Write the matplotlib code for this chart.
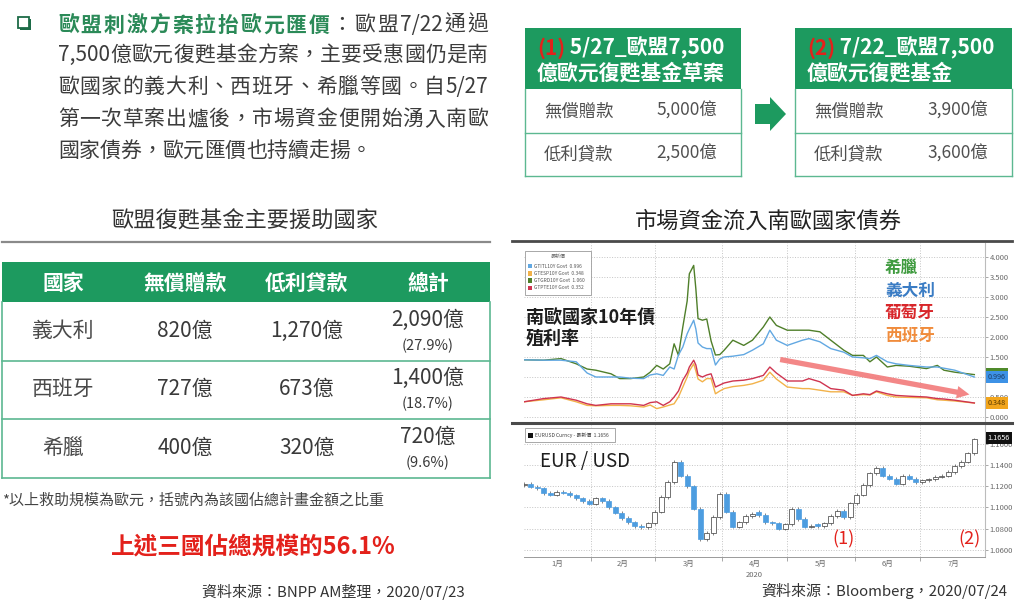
import re
import numpy as np
import matplotlib
matplotlib.use('Agg')
import matplotlib.pyplot as plt
from matplotlib.patches import Rectangle, Polygon, FancyArrowPatch
from matplotlib.transforms import blended_transform_factory as blend

plt.rcParams['font.family'] = ['Noto Sans CJK TC', 'DejaVu Sans']

# ---------------- data ----------------
intro_head = "歐盟刺激方案拉抬歐元匯價"
intro_tail = "：歐盟7/22通過"
intro_lines = ["7,500億歐元復甦基金方案，主要受惠國仍是南",
               "歐國家的義大利、西班牙、希臘等國。自5/27",
               "第一次草案出爐後，市場資金便開始湧入南歐",
               "國家債券，歐元匯價也持續走揚。"]

plan_tags = ["(1)", "(2)"]
plan_line1 = [" 5/27_歐盟7,500", " 7/22_歐盟7,500"]
plan_line2 = ["億歐元復甦基金草案", "億歐元復甦基金"]
plan_items = ["無償贈款", "低利貸款"]
plan1_values = [5000, 2500]
plan2_values = [3900, 3600]

table_title = "歐盟復甦基金主要援助國家"
table_header = ["國家", "無償贈款", "低利貸款", "總計"]
countries = ["義大利", "西班牙", "希臘"]
grants = [820, 727, 400]
loans = [1270, 673, 320]
totals = [2090, 1400, 720]
shares = [27.9, 18.7, 9.6]
footnote = "*以上救助規模為歐元，括號內為該國佔總計畫金額之比重"
summary = "上述三國佔總規模的56.1%"
source_left = "資料來源：BNPP AM整理，2020/07/23"

chart_title = "市場資金流入南歐國家債券"
source_right = "資料來源：Bloomberg，2020/07/24"
month_labels = ["1月", "2月", "3月", "4月", "5月", "6月", "7月"]
month_start_days = [0, 31, 60, 91, 121, 152, 182, 213]
yield_ticks = [0.0, 0.5, 1.0, 1.5, 2.0, 2.5, 3.0, 3.5, 4.0]
fx_ticks = [1.06, 1.08, 1.10, 1.12, 1.14, 1.16]

# 10Y yields (%), day of year 2020
yield_days = [0, 9, 17, 24, 29, 33, 40, 44, 49, 55, 58, 61, 64, 67, 69, 71, 73, 75, 76, 78,
              79, 80, 82, 84, 86, 88, 90, 92, 96, 101, 105, 110, 113, 116, 121, 128, 131, 136,
              141, 147, 151, 156, 159, 162, 167, 171, 177, 185, 190, 193, 198, 207]
greece = [1.43, 1.42, 1.46, 1.33, 1.20, 1.17, 1.08, 0.96, 0.96, 1.00, 1.12, 1.29, 1.20, 1.33,
          1.83, 1.54, 2.25, 2.90, 3.58, 3.79, 3.20, 2.46, 2.42, 2.45, 1.90, 1.55, 1.56, 1.67,
          1.92, 1.79, 1.92, 2.25, 2.50, 2.29, 2.17, 2.17, 2.17, 2.13, 1.92, 1.67, 1.54, 1.54,
          1.38, 1.50, 1.25, 1.29, 1.27, 1.21, 1.29, 1.17, 1.12, 1.06]
italy = [1.43, 1.42, 1.42, 1.38, 1.10, 1.00, 1.00, 1.00, 0.97, 0.96, 1.05, 1.08, 1.04, 1.25,
         1.20, 1.55, 1.75, 2.08, 2.20, 2.42, 2.20, 1.85, 1.75, 1.71, 1.71, 1.30, 1.45, 1.50,
         1.52, 1.56, 1.67, 1.83, 2.17, 1.92, 1.79, 1.92, 1.96, 1.88, 1.71, 1.62, 1.50, 1.48,
         1.46, 1.54, 1.38, 1.33, 1.29, 1.25, 1.25, 1.22, 1.17, 1.00]
portugal = [0.38, 0.46, 0.50, 0.42, 0.33, 0.29, 0.33, 0.33, 0.33, 0.29, 0.36, 0.38, 0.29, 0.38,
            0.50, 0.65, 0.92, 1.10, 1.25, 1.42, 1.30, 1.05, 1.00, 1.05, 1.08, 0.75, 0.80, 0.85,
            0.90, 0.92, 0.96, 1.04, 1.25, 1.10, 0.90, 0.90, 0.96, 0.88, 0.71, 0.67, 0.54, 0.58,
            0.56, 0.65, 0.58, 0.54, 0.52, 0.50, 0.46, 0.45, 0.42, 0.35]
spain = [0.38, 0.43, 0.48, 0.38, 0.29, 0.28, 0.29, 0.29, 0.28, 0.25, 0.30, 0.21, 0.25, 0.30,
         0.33, 0.50, 0.75, 1.00, 1.15, 1.33, 1.15, 0.95, 0.88, 0.96, 0.96, 0.58, 0.65, 0.71,
         0.76, 0.79, 0.83, 0.92, 1.12, 0.95, 0.75, 0.71, 0.71, 0.67, 0.63, 0.63, 0.54, 0.56,
         0.55, 0.63, 0.54, 0.50, 0.49, 0.48, 0.43, 0.42, 0.40, 0.35]
last_values = {"GTITL10Y Govt": 0.996, "GTESP10Y Govt": 0.348,
               "GTGRD10Y Govt": 1.060, "GTPTE10Y Govt": 0.352}
fx_last = 1.1656

# EUR/USD candles (every 3 days)
fx_days = list(range(0, 208, 3))
fx_open = [1.1210, 1.1225, 1.1195, 1.1180, 1.1135, 1.1120, 1.1150, 1.1140, 1.1115, 1.1085,
           1.1060, 1.1035, 1.1085, 1.1060, 1.1000, 1.0950, 1.0900, 1.0860, 1.0825, 1.0815,
           1.0850, 1.0960, 1.1100, 1.1240, 1.1430, 1.1300, 1.1200, 1.0990, 1.0700, 1.0760,
           1.0910, 1.1130, 1.0960, 1.0820, 1.0860, 1.0920, 1.0960, 1.0930, 1.0860, 1.0850,
           1.0800, 1.0840, 1.0990, 1.0890, 1.0820, 1.0840, 1.0825, 1.0850, 1.0920, 1.0970,
           1.0910, 1.1040, 1.1120, 1.1210, 1.1320, 1.1370, 1.1300, 1.1270, 1.1225, 1.1300,
           1.1270, 1.1240, 1.1255, 1.1265, 1.1290, 1.1300, 1.1335, 1.1390, 1.1430, 1.1510]
fx_close = [1.1225, 1.1195, 1.1180, 1.1135, 1.1120, 1.1150, 1.1140, 1.1115, 1.1085, 1.1060,
            1.1035, 1.1085, 1.1060, 1.1000, 1.0950, 1.0900, 1.0860, 1.0825, 1.0815, 1.0850,
            1.0960, 1.1100, 1.1240, 1.1430, 1.1300, 1.1200, 1.0990, 1.0700, 1.0760, 1.0910,
            1.1130, 1.0960, 1.0820, 1.0860, 1.0920, 1.0940, 1.0930, 1.0860, 1.0850, 1.0800,
            1.0840, 1.0990, 1.0890, 1.0820, 1.0830, 1.0825, 1.0850, 1.0920, 1.0970, 1.0910,
            1.1040, 1.1120, 1.1210, 1.1320, 1.1370, 1.1300, 1.1270, 1.1225, 1.1300, 1.1270,
            1.1240, 1.1255, 1.1265, 1.1290, 1.1300, 1.1335, 1.1390, 1.1430, 1.1510, 1.1640]

# ---------------- style ----------------
GREEN = '#1d9a5f'
GREEN_TXT = '#2b8a58'
LINE_G = '#5cb891'
TXT = '#3c3c3c'
RED = '#e3211b'

W, H = 1024, 604
fig = plt.figure(figsize=(W / 100, H / 100), dpi=100, facecolor='white')


def px_axes(x0, y0, x1, y1, **kw):
    return fig.add_axes([x0 / W, 1 - y1 / H, (x1 - x0) / W, (y1 - y0) / H], **kw)


ov = fig.add_axes([0, 0, 1, 1], zorder=10)
ov.set_xlim(0, W)
ov.set_ylim(H, 0)
ov.axis('off')
ov.patch.set_visible(False)
renderer = fig.canvas.get_renderer()


def text_width(s, **kw):
    t = ov.text(0, 0, s, **kw)
    w = t.get_window_extent(renderer).width
    t.remove()
    return w


def justified(segments, x0, x1, y, justify=True, fontsize=15):
    """segments: list of (text, color, weight)."""
    tokens = []
    for s, col, wt in segments:
        for tok in re.findall(r'[A-Za-z0-9/,.%_]+|.', s):
            tokens.append((tok, col, wt))
    widths = [text_width(t, fontsize=fontsize, fontweight=wt) for t, col, wt in tokens]
    gap = (x1 - x0 - sum(widths)) / (len(tokens) - 1) if justify else 0.0
    x = x0
    for (tok, col, wt), w in zip(tokens, widths):
        ov.text(x, y, tok, fontsize=fontsize, fontweight=wt, color=col,
                ha='left', va='center')
        x += w + gap


# ---------------- intro text ----------------
ov.add_patch(Rectangle((19.5, 18.5), 11, 11, facecolor='#1d6b47', edgecolor='none'))
ov.add_patch(Rectangle((18, 17), 10.5, 10.5, facecolor='white', edgecolor='#1d6b47', lw=1.3))
justified([(intro_head, GREEN_TXT, 'bold'), (intro_tail, TXT, 'normal')], 58, 488, 25)
line_y = [55, 87, 119, 151]
for i, line in enumerate(intro_lines):
    justified([(line, TXT, 'normal')], 58, 488, line_y[i],
              justify=(i < len(intro_lines) - 1))

# ---------------- plan tables ----------------
def plan_table(x0, x1, tag, l1, l2, values):
    ov.add_patch(Rectangle((x0, 28), x1 - x0, 61, facecolor=GREEN, edgecolor='none'))
    ta = ov.text(x0 + 12, 48, tag, color=RED, fontsize=15, fontweight='bold',
                 va='center', ha='left')
    ov.annotate(l1, xy=(1, 0.5), xycoords=ta, va='center', ha='left', color='white',
                fontsize=15, fontweight='bold')
    ov.text(x0 + 12, 73, l2, color='white', fontsize=15, fontweight='bold',
            va='center', ha='left')
    for k, (item, v) in enumerate(zip(plan_items, values)):
        yc = 111 + k * 43
        ov.text(x0 + 19, yc, item, color='#505050', fontsize=12.5, va='center', ha='left')
        ov.text(x1 - 24, yc, f"{v:,}億", color='#505050', fontsize=12.5,
                va='center', ha='right')
    for yl in (133, 176):
        ov.plot([x0, x1], [yl, yl], color=LINE_G, lw=1)
    for xl in (x0, x1):
        ov.plot([xl, xl], [89, 176], color=LINE_G, lw=1)


plan_table(525, 741, plan_tags[0], plan_line1[0], plan_line2[0], plan1_values)
plan_table(795, 1012, plan_tags[1], plan_line1[1], plan_line2[1], plan2_values)
ov.add_patch(Polygon([(755, 104), (770, 104), (770, 97), (786, 114), (770, 131),
                      (770, 124), (755, 124)], closed=True, facecolor=GREEN,
                     edgecolor='none'))

# ---------------- country table ----------------
ov.text(245, 221, table_title, color='#333333', fontsize=16, va='center', ha='center')
ov.plot([2, 490], [242, 242], color='#8a8a8a', lw=1.6)
ov.add_patch(Rectangle((2, 262), 488, 40, facecolor=GREEN, edgecolor='none'))
col_x = [63, 185, 307, 428]
for cx, h in zip(col_x, table_header):
    ov.text(cx, 283, h, color='white', fontsize=15, fontweight='bold',
            va='center', ha='center')
row_top = [302, 360, 419]
row_h = 58.5
for r, c in enumerate(countries):
    yc = row_top[r] + row_h / 2
    ov.text(col_x[0], yc, c, color='#4a4a4a', fontsize=15, va='center', ha='center')
    ov.text(col_x[1], yc, f"{grants[r]:,}億", color='#3a3a3a', fontsize=15,
            va='center', ha='center')
    ov.text(col_x[2], yc, f"{loans[r]:,}億", color='#3a3a3a', fontsize=15,
            va='center', ha='center')
    ov.text(col_x[3], yc - 11, f"{totals[r]:,}億", color='#3a3a3a', fontsize=15,
            va='center', ha='center')
    ov.text(col_x[3], yc + 15, f"({shares[r]}%)", color='#3a3a3a', fontsize=10.5,
            va='center', ha='center')
    yb = row_top[r] + row_h
    ov.plot([2, 490], [yb, yb], color=LINE_G, lw=1.2)
for xl in (2, 490):
    ov.plot([xl, xl], [302, 478], color=LINE_G, lw=1.2)

ov.text(2, 500, footnote, color='#444444', fontsize=10.8, va='center', ha='left')
ov.text(253, 547, summary, color=RED, fontsize=17, fontweight='bold',
        va='center', ha='center')
ov.text(465, 592, source_left, color='#333333', fontsize=10.8, va='center', ha='right')

# ---------------- chart ----------------
ov.text(768, 221, chart_title, color='#222222', fontsize=16, va='center', ha='center')
ov.plot([512, 1012], [241, 241], color='#4a4a4a', lw=2)
ov.plot([512, 1012], [423, 423], color='#4a4a4a', lw=2.2)

mids = [(a + b) / 2 for a, b in zip(month_start_days[:-1], month_start_days[1:])]
XMAX = 211.9


def style_axis(ax):
    for s in ('left', 'top', 'bottom'):
        ax.spines[s].set_visible(False)
    ax.spines['right'].set_color('#bcbcbc')
    ax.spines['right'].set_linewidth(0.8)
    ax.yaxis.tick_right()
    ax.tick_params(axis='y', labelsize=5.5, labelcolor='#6a6a6a', color='#9a9a9a',
                   length=2, pad=1.5, width=0.6)
    ax.set_xlim(0, XMAX)
    ax.set_xticks(month_start_days[1:-1])
    ax.grid(True, ls=':', color='#c4c4c4', lw=0.7)
    ax.set_axisbelow(True)


ax1 = px_axes(524, 243, 985, 421)
style_axis(ax1)
ax1.set_ylim(-0.1, 4.35)
ax1.set_yticks(yield_ticks)
# the 1.000 label sits behind the last-value tags, as in the screenshot
ax1.set_yticklabels(["" if v == 1.0 else f"{v:.3f}" for v in yield_ticks])
ax1.tick_params(axis='x', length=0, labelbottom=False)
ax1.plot(yield_days, greece, color='#4f7f2a', lw=1.0)
ax1.plot(yield_days, italy, color='#62a8e2', lw=1.0)
ax1.plot(yield_days, spain, color='#f2b24a', lw=1.0)
ax1.plot(yield_days, portugal, color='#cf3450', lw=1.0)

ax2 = px_axes(524, 425, 985, 557)
style_axis(ax2)
ax2.spines['bottom'].set_visible(True)
ax2.spines['bottom'].set_color('#9a9a9a')
ax2.spines['bottom'].set_linewidth(0.7)
ax2.set_ylim(1.0534, 1.1776)
ax2.set_yticks(fx_ticks)
ax2.set_yticklabels([f"{v:.4f}" for v in fx_ticks])
ax2.set_xticklabels([])
ax2.set_xticks(mids, minor=True)
ax2.set_xticklabels(month_labels, minor=True)
ax2.tick_params(axis='x', which='major', length=3, color='#9a9a9a', width=0.6)
ax2.tick_params(axis='x', which='minor', length=0, labelsize=5.5, labelcolor='#6a6a6a',
                pad=2)
ax2.text(mids[3], -0.105, "2020", transform=blend(ax2.transData, ax2.transAxes),
         fontsize=5.5, color='#6a6a6a', ha='center', va='top')

o = np.array(fx_open)
c = np.array(fx_close)
up = c >= o
lo = np.minimum(o, c) - 0.0016
hi = np.maximum(o, c) + 0.0016
ax2.vlines(fx_days, lo, hi, color='#555555', lw=0.5, zorder=2)
ax2.bar(fx_days, c - o, bottom=o, width=2.3,
        color=np.where(up, 'white', '#4d9de0'),
        edgecolor=np.where(up, '#3a3a3a', '#4d9de0'), linewidth=0.5, zorder=3)

# legends of the screenshot
ov.add_patch(Rectangle((525, 251), 66, 44, facecolor='white', edgecolor='#9a9a9a', lw=0.6))
ov.text(558, 257, "最新價", fontsize=3.6, color='#666666', ha='center', va='center')
leg_colors = ['#62a8e2', '#f2b24a', '#4f7f2a', '#cf3450']
for k, ((name, val), col) in enumerate(zip(last_values.items(), leg_colors)):
    yy = 266 + k * 7.3
    ov.add_patch(Rectangle((527.5, yy - 2.2), 4.4, 4.4, facecolor=col, edgecolor='none'))
    ov.text(533.5, yy, f"{name}  {val:.3f}", fontsize=3.5, color='#555555',
            ha='left', va='center')
ov.add_patch(Rectangle((525, 428), 90, 14, facecolor='white', edgecolor='#9a9a9a', lw=0.6))
ov.add_patch(Rectangle((528, 432.5), 5, 5, facecolor='#111111', edgecolor='none'))
ov.text(535, 435, f"EURUSD Curncy - 最新價  {fx_last:.4f}", fontsize=3.6,
        color='#444444', ha='left', va='center')

# annotations
ov.text(526, 317, "南歐國家10年債", fontsize=13, color='#1e1e1e', fontweight='bold',
        ha='left', va='center')
ov.text(526, 338, "殖利率", fontsize=13, color='#1e1e1e', fontweight='bold',
        ha='left', va='center')
for lab, col, yy in [("希臘", '#3f9b3f', 268), ("義大利", '#3a7cc4', 291),
                     ("葡萄牙", '#d8262a', 313), ("西班牙", '#f08c3c', 335)]:
    ov.text(885, yy, lab, fontsize=12, color=col, fontweight='bold',
            ha='left', va='center')
ov.text(540, 462, "EUR / USD", fontsize=13.5, color='#1e1e1e', ha='left', va='center')
ov.text(843, 539, "(1)", fontsize=13, color=RED, ha='center', va='center')
ov.text(969, 539, "(2)", fontsize=13, color=RED, ha='center', va='center')

arrow = FancyArrowPatch((116.5, 1.45), (206, 0.55), transform=ax1.transData,
                        arrowstyle='simple,head_length=0.9,head_width=0.9,tail_width=0.38',
                        mutation_scale=10, color='#f27a7a', alpha=0.9, lw=0)
ov.add_patch(arrow)

# last-value tags
bt1 = blend(ax1.transAxes, ax1.transData)
for val, fc, tc in [(last_values["GTGRD10Y Govt"], '#4f8a2a', 'white'),
                    (last_values["GTITL10Y Govt"], '#3d92e6', '#1d3d66'),
                    (last_values["GTPTE10Y Govt"], '#cf3450', 'white'),
                    (last_values["GTESP10Y Govt"], '#f2a51c', '#5a3a00')]:
    ov.text(1.006, val, f"{val:.3f}", transform=bt1, fontsize=5.2, color=tc,
            ha='left', va='center',
            bbox=dict(boxstyle='square,pad=0.3', fc=fc, ec='none'))
bt2 = blend(ax2.transAxes, ax2.transData)
ov.text(1.006, fx_last, f"{fx_last:.4f}", transform=bt2, fontsize=5.2, color='white',
        ha='left', va='center', bbox=dict(boxstyle='square,pad=0.3', fc='#111111', ec='none'))

ov.text(1007, 591, source_right, color='#333333', fontsize=10.8, va='center', ha='right')

fig.savefig('out.png', dpi=100, facecolor='white')
